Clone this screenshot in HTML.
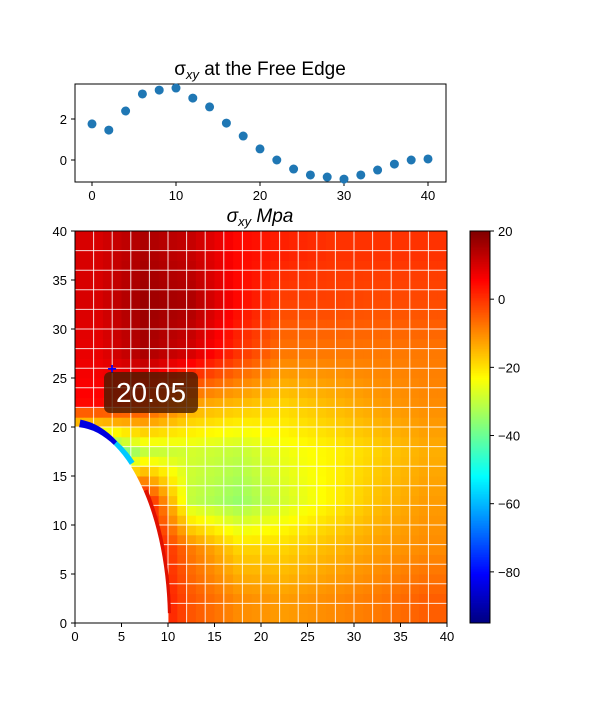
<!DOCTYPE html>
<html><head><meta charset="utf-8">
<style>
body{margin:0;background:#fff;font-family:"Liberation Sans","DejaVu Sans",sans-serif;}
svg text{font-family:"Liberation Sans","DejaVu Sans",sans-serif;}
</style></head>
<body>
<svg id="fig" width="600" height="700" xmlns="http://www.w3.org/2000/svg">
<rect width="600" height="700" fill="#fff"/>
<g id="top"></g>
<g id="bot"></g>
<g id="cbar"></g>
</svg>
<script>
const edgeX=[0,2,4,6,8,10,12,14,16,18,20,22,24,26,28,30,32,34,36,38,40];
const edgeY=[1.76,1.46,2.39,3.22,3.41,3.51,3.02,2.59,1.8,1.17,0.54,0.0,-0.44,-0.73,-0.83,-0.93,-0.73,-0.49,-0.2,0.0,0.05];
const topXTicks=[0,10,20,30,40];
const topYTicks=[0,2];
// field values at 5x5 block centers, rows top (y=37.5) to bottom (y=2.5), cols x=2.5..37.5
const fieldRows=[
[10,15,12,5,2,0,0,0],
[10,17,15,5,-2,-2,-3,-3],
[8,15,10,0,-8,-8,-8,-8],
[5,0,-12,-15,-18,-15,-12,-10],
[-45,-30,-28,-30,-25,-22,-18,-14],
[5,5,-30,-35,-28,-22,-16,-12],
[8,8,-8,-18,-18,-15,-12,-10],
[8,8,-4,-10,-12,-10,-8,-5]];
const cbTicks=[20,0,-20,-40,-60,-80];
const vMin=-95,vMax=20;
const peakLabel="20.05";
const NS="http://www.w3.org/2000/svg";
function mk(p,t,a){const e=document.createElementNS(NS,t);for(const k in a)e.setAttribute(k,a[k]);p.appendChild(e);return e;}
const T=document.getElementById('top');
const tx=v=>92+v*8.4, ty=v=>160-v*20.5;
const tframe=mk(T,'rect',{x:75,y:84,width:371,height:98,fill:'none',stroke:'#000','stroke-width':1});

topXTicks.forEach(v=>{mk(T,'line',{x1:tx(v),x2:tx(v),y1:182,y2:186,stroke:'#000'});
const t=mk(T,'text',{x:tx(v),y:200,'text-anchor':'middle','font-size':13});t.textContent=v;
});
topYTicks.forEach(v=>{mk(T,'line',{x1:71,x2:75,y1:ty(v),y2:ty(v),stroke:'#000'});
const t=mk(T,'text',{x:67,y:ty(v)+5,'text-anchor':'end','font-size':13});t.textContent=v;
});
edgeX.forEach((x,i)=>{const c=mk(T,'circle',{cx:tx(x),cy:ty(edgeY[i]),r:4.5,fill:'#1f77b4'});
});
const tt=mk(T,'text',{x:260,y:75,'text-anchor':'middle','font-size':19});
tt.innerHTML='σ<tspan font-style="italic" font-size="13" dy="4">xy</tspan><tspan dy="-4"> at the Free Edge</tspan>';

function jet(v){let t=(v-vMin)/(vMax-vMin);t=Math.max(0,Math.min(1,t));
const f=x=>Math.max(0,Math.min(1,x));
const r=f(1.5-Math.abs(4*t-3)),g=f(1.5-Math.abs(4*t-2)),b=f(1.5-Math.abs(4*t-1));
return `rgb(${Math.round(r*255)},${Math.round(g*255)},${Math.round(b*255)})`;}
function field(x,y){let fx=x/5-0.5,fy=(37.5-y)/5;fx=Math.max(0,Math.min(7,fx));fy=Math.max(0,Math.min(7,fy));
const i=Math.min(6,Math.floor(fy)),j=Math.min(6,Math.floor(fx));const a=fy-i,b=fx-j;
return fieldRows[i][j]*(1-a)*(1-b)+fieldRows[i][j+1]*(1-a)*b+fieldRows[i+1][j]*a*(1-b)+fieldRows[i+1][j+1]*a*b;}
const B=document.getElementById('bot');
const bx=v=>75+v*9.3, by=v=>623-v*9.8;
const step=1;
for(let x=0;x<40;x+=step)for(let y=0;y<40;y+=step){
mk(B,'rect',{x:bx(x),y:by(y+step),width:9.3*step+0.5,height:9.8*step+0.5,fill:jet(field(x+step/2,y+step/2))});}
for(let k=2;k<40;k+=2){mk(B,'line',{x1:bx(k),x2:bx(k),y1:231,y2:623,stroke:'#fff','stroke-width':1,opacity:0.85});
mk(B,'line',{x1:75,x2:447,y1:by(k),y2:by(k),stroke:'#fff','stroke-width':1,opacity:0.85});}
mk(B,'path',{d:`M${bx(0.5)},${by(20.3)} A93,196 0 0 1 ${bx(4.2)},${by(18.2)}`,fill:'none',stroke:'#0000e0','stroke-width':9});
mk(B,'path',{d:`M${bx(4.2)},${by(18.2)} A93,196 0 0 1 ${bx(6)},${by(16.2)}`,fill:'none',stroke:'#00c8ff','stroke-width':9});
mk(B,'path',{d:`M${bx(7.5)},${by(13.5)} A93,196 0 0 1 ${bx(10)},${by(1)}`,fill:'none',stroke:'#e01000','stroke-width':6});
const hole=mk(B,'path',{d:`M75,623 L75,${by(20)} A93,196 0 0 1 ${bx(10)},623 Z`,fill:'#fff'});

mk(B,'rect',{x:75,y:231,width:372,height:392,fill:'none',stroke:'#000'});
[0,5,10,15,20,25,30,35,40].forEach(v=>{
mk(B,'line',{x1:bx(v),x2:bx(v),y1:623,y2:627,stroke:'#000'});
let t=mk(B,'text',{x:bx(v),y:641,'text-anchor':'middle','font-size':13});t.textContent=v;

mk(B,'line',{x1:71,x2:75,y1:by(v),y2:by(v),stroke:'#000'});
t=mk(B,'text',{x:67,y:by(v)+5,'text-anchor':'end','font-size':13});t.textContent=v;
});
const bt=mk(B,'text',{x:260,y:222,'text-anchor':'middle','font-size':19,'font-style':'italic'});
bt.innerHTML='σ<tspan font-size="13" dy="4">xy</tspan><tspan dy="-4"> Mpa</tspan>';

const mkr=mk(B,'text',{x:112,y:374,'text-anchor':'middle','font-size':16,fill:'#00f','font-weight':'bold'});mkr.textContent='+';

mk(B,'rect',{x:104,y:372,width:94,height:41,rx:6,fill:'#4a1a00',opacity:0.8});
const lb=mk(B,'text',{x:151,y:402,'text-anchor':'middle','font-size':28,fill:'#fff'});lb.textContent=peakLabel;

const C=document.getElementById('cbar');
const cy=v=>231+(vMax-v)*(392/(vMax-vMin));
for(let v=vMin;v<vMax;v+=0.5)mk(C,'rect',{x:470,y:cy(v+0.5),width:20,height:392/(vMax-vMin)*0.5+0.4,fill:jet(v+0.25)});
mk(C,'rect',{x:470,y:231,width:20,height:392,fill:'none',stroke:'#000'});
cbTicks.forEach(v=>{mk(C,'line',{x1:490,x2:494,y1:cy(v),y2:cy(v),stroke:'#000'});
const t=mk(C,'text',{x:498,y:cy(v)+5,'font-size':13});t.textContent=v<0?'−'+(-v):v;
});
</script>
</body></html>
